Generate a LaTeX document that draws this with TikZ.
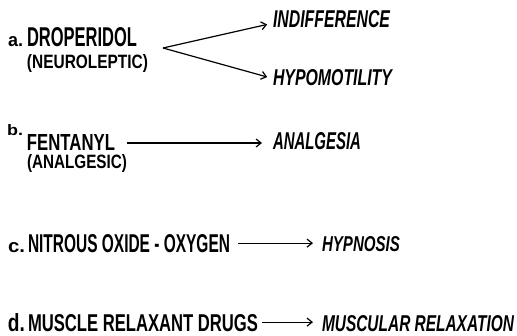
\documentclass[tikz,border=0pt]{standalone}
\usepackage{fontspec}
\setmainfont{Liberation Sans}
\usetikzlibrary{arrows.meta}
\newcommand\fitbox[3]{\resizebox{#1}{#2}{#3}}
\tikzset{
  lbl/.style={anchor=base west, inner sep=0pt, outer sep=0pt, font=\bfseries},
  eff/.style={lbl, font=\bfseries\itshape},
  arr/.style={line width=1.2pt, -{Straight Barb[length=5pt,width=8pt,line width=1.2pt]}}
}
\begin{document}
\begin{tikzpicture}[x=1pt,y=-1pt]
\useasboundingbox (0,0) rectangle (517,336);
% a
\node[lbl] (la) at (8,47) {\fitbox{15pt}{10pt}{a.}};
\node[lbl] (drop) at (27,47) {\fitbox{110pt}{19pt}{DROPERIDOL}};
\node[lbl] (neur) at (27,69) {\fitbox{121pt}{14pt}{(NEUROLEPTIC)}};
\node[eff] (ind) at (273,28) {\fitbox{117pt}{17pt}{INDIFFERENCE}};
\node[eff] (hypo) at (273,86) {\fitbox{119pt}{16pt}{HYPOMOTILITY}};
\coordinate (v) at (163,48);
\draw[arr, shorten >=6pt] (v) -- ([yshift=-3.5pt]ind.west);
\draw[arr, shorten >=6pt] (v) -- ([yshift=-0.5pt]hypo.west);
% b
\node[lbl] (lb) at (7,136) {\fitbox{16pt}{11pt}{b.}};
\node[lbl] (fent) at (27,151) {\fitbox{88pt}{16pt}{FENTANYL}};
\node[lbl] (anal) at (27,169) {\fitbox{100pt}{14pt}{(ANALGESIC)}};
\node[eff] (anl) at (273,150) {\fitbox{88pt}{17pt}{ANALGESIA}};
\draw[arr, shorten <=12pt, shorten >=11pt] (fent.east) -- (anl.west |- fent.east);
% c
\node[lbl] (lc) at (8,253) {\fitbox{17pt}{10pt}{c.}};
\node[lbl] (nit) at (28,253) {\fitbox{202pt}{18pt}{NITROUS OXIDE - OXYGEN}};
\node[eff] (hyp) at (322,252) {\fitbox{78pt}{15pt}{HYPNOSIS}};
\draw[arr, shorten <=8pt, shorten >=9pt] ([yshift=1pt]nit.east) -- ([yshift=1pt]hyp.west |- nit.east);
% d
\node[lbl] (ld) at (8,332) {\fitbox{17pt}{18pt}{d.}};
\node[lbl] (mus) at (28,332) {\fitbox{230pt}{17pt}{MUSCLE RELAXANT DRUGS}};
\node[eff] (mr) at (322,332) {\fitbox{192pt}{16pt}{MUSCULAR RELAXATION}};
\draw[arr, shorten <=4pt, shorten >=9pt] ([yshift=1.5pt]mus.east) -- ([yshift=1.5pt]mr.west |- mus.east);
\end{tikzpicture}
\end{document}
